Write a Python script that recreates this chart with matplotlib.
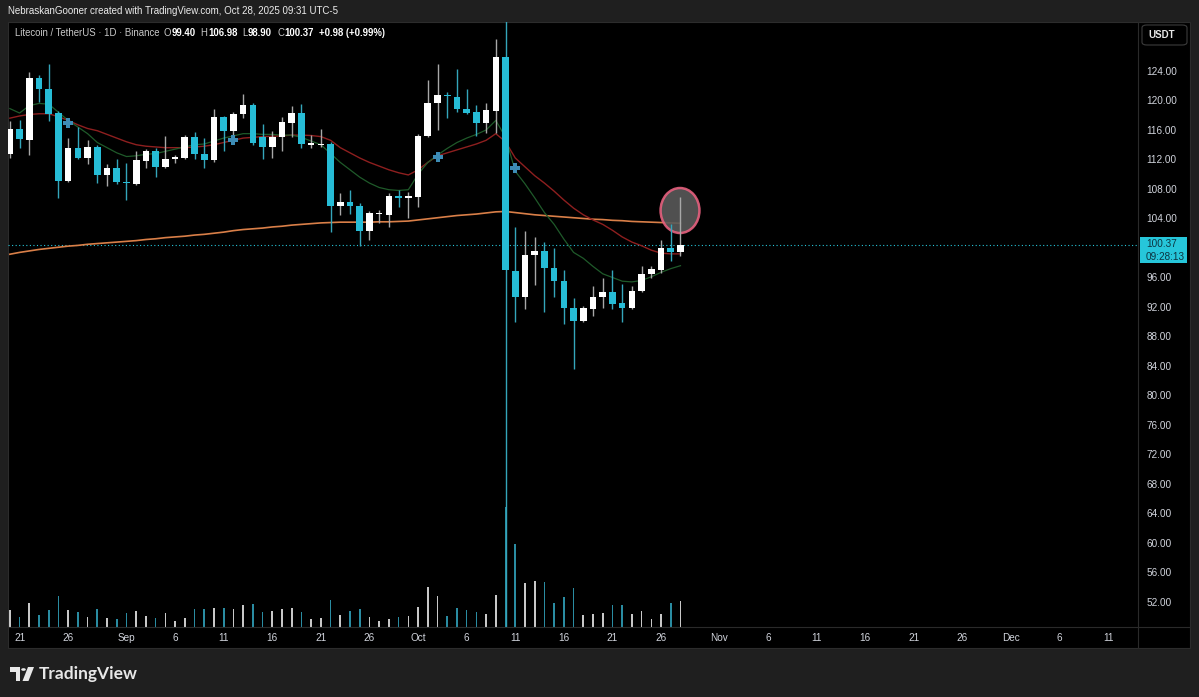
import numpy as np
import pandas as pd
import matplotlib.pyplot as plt
from matplotlib.patches import Rectangle, Ellipse, FancyBboxPatch, Polygon, Circle

W, H = 1199, 697

# LTC/USDT daily, Aug 20 - Oct 28 2025
dates = pd.date_range('2025-08-20', '2025-10-28', freq='D')
opens = [112.7, 116.1, 114.7, 123.0, 121.5, 118.3, 109.1, 113.5, 112.2, 113.7,
         109.9, 110.9, 109.0, 108.7, 111.8, 113.1, 111.0, 112.1, 112.2, 115.0,
         112.8, 111.9, 117.7, 115.9, 118.1, 119.4, 115.1, 113.7, 115.1, 117.0,
         118.3, 114.0, 113.9, 114.1, 105.7, 106.2, 105.7, 102.3, 104.6, 104.5,
         107.0, 106.8, 106.9, 115.2, 119.6, 120.8, 120.5, 118.9, 118.4, 116.9,
         118.6, 125.9, 96.9, 93.3, 99.0, 99.6, 97.3, 95.5, 91.8, 90.1,
         91.7, 93.3, 94.0, 92.5, 91.9, 94.2, 96.5, 97.0, 100.0, 99.40]
highs = [117.2, 117.4, 123.8, 123.5, 124.9, 118.6, 114.9, 116.4, 114.7, 113.9,
         111.4, 112.0, 111.5, 113.1, 113.4, 113.5, 115.2, 112.6, 115.3, 115.7,
         114.9, 118.8, 117.9, 118.5, 120.9, 119.6, 116.8, 115.9, 117.8, 119.3,
         119.5, 115.3, 116.2, 114.4, 107.4, 107.9, 106.1, 105.0, 105.2, 107.4,
         107.8, 107.6, 115.5, 122.8, 125.0, 121.1, 124.2, 121.5, 119.4, 119.7,
         128.3, 131.5, 102.9, 102.3, 101.5, 100.8, 100.0, 97.0, 93.2, 92.1,
         94.8, 95.9, 97.0, 95.1, 94.8, 97.6, 97.6, 101.1, 103.3, 106.98]
lows = [112.2, 113.6, 112.6, 119.8, 117.2, 106.8, 108.9, 112.0, 111.4, 108.8,
        108.4, 108.7, 106.5, 108.5, 110.9, 109.6, 110.8, 111.5, 112.0, 112.0,
        110.9, 111.6, 113.2, 114.6, 117.6, 114.0, 112.0, 112.2, 113.2, 115.1,
        113.5, 113.5, 113.7, 102.2, 104.5, 104.6, 100.3, 101.1, 103.4, 102.9,
        105.5, 104.0, 105.6, 115.0, 116.0, 117.6, 118.5, 118.2, 115.2, 115.6,
        115.6, 45.0, 90.0, 91.7, 95.0, 91.3, 93.4, 89.7, 83.6, 90.0,
        90.8, 91.8, 91.7, 90.0, 91.7, 94.0, 95.9, 96.6, 98.3, 98.90]
closes = [116.1, 114.8, 123.0, 121.5, 118.2, 109.1, 113.5, 112.2, 113.7, 109.9,
          110.9, 108.9, 108.8, 111.9, 113.1, 111.0, 112.1, 112.3, 115.0, 112.7,
          111.9, 117.7, 115.9, 118.2, 119.4, 114.2, 113.7, 115.1, 117.1, 118.3,
          114.1, 114.2, 114.1, 105.7, 106.2, 105.7, 102.3, 104.7, 104.8, 107.0,
          106.8, 107.0, 115.2, 119.7, 120.7, 120.6, 118.8, 118.3, 116.9, 118.7,
          125.9, 97.0, 93.3, 99.1, 99.6, 97.3, 95.5, 91.8, 90.1, 91.8,
          93.4, 94.0, 92.4, 91.9, 94.2, 96.5, 97.1, 100.0, 99.4, 100.37]
volumes = [510, 300, 720, 360, 510, 930, 510, 450, 300, 540,
           270, 240, 420, 480, 330, 270, 420, 180, 270, 540,
           540, 570, 570, 540, 660, 690, 450, 480, 540, 570,
           450, 240, 270, 810, 360, 480, 540, 300, 180, 240,
           300, 330, 600, 1200, 930, 330, 570, 510, 450, 390,
           960, 3600, 2490, 1320, 1380, 1350, 720, 900, 1170, 360,
           390, 420, 660, 660, 390, 480, 240, 390, 720, 780]

# moving averages
ma_fast = [118.9, 118.3, 119.3, 119.6, 119.5, 118.4, 117.3, 116.4, 115.5, 114.3,
           113.6, 112.9, 112.4, 112.5, 112.7, 112.8, 113.1, 113.4, 113.7, 114.0,
           114.1, 114.5, 114.9, 115.2, 115.5, 115.5, 115.4, 115.4, 115.3, 115.3,
           115.0, 114.5, 114.0, 112.8, 111.6, 110.6, 109.6, 108.8, 108.2, 107.9,
           107.8, 107.9, 110.0, 111.6, 112.6, 113.5, 114.3, 114.9, 115.4, 116.0,
           117.3, 115.0, 110.4, 108.7, 106.8, 104.8, 103.2, 101.2, 99.4, 98.6,
           97.5, 96.5, 96.0, 95.5, 95.4, 95.6, 96.1, 96.7, 97.2, 97.6]
ma_mid = [117.6, 117.9, 118.1, 118.2, 118.2, 117.8, 117.3, 116.7, 116.2, 115.9,
          115.4, 114.9, 114.4, 114.0, 113.8, 113.7, 113.6, 113.6, 113.6, 113.7,
          113.8, 114.0, 114.3, 114.6, 114.9, 115.0, 115.1, 115.15, 115.2, 115.3,
          115.3, 115.25, 115.1, 114.6, 113.6, 112.9, 112.2, 111.6, 111.1, 110.6,
          110.2, 109.9, 110.6, 111.6, 112.5, 112.9, 113.3, 113.7, 114.1, 114.6,
          115.5, 114.4, 112.2, 111.0, 109.8, 108.8, 107.7, 106.5, 105.4, 104.5,
          103.8, 103.2, 102.4, 101.5, 100.8, 100.3, 99.7, 99.3, 99.2, 99.2]
ma_slow = [99.15, 99.4, 99.6, 99.8, 99.95, 100.1, 100.25, 100.35, 100.5, 100.6,
           100.7, 100.8, 100.9, 101.0, 101.15, 101.25, 101.4, 101.5, 101.6, 101.75,
           101.85, 102.0, 102.15, 102.35, 102.5, 102.6, 102.7, 102.85, 102.95, 103.1,
           103.2, 103.3, 103.4, 103.45, 103.5, 103.5, 103.5, 103.5, 103.55, 103.55,
           103.6, 103.65, 103.8, 103.95, 104.1, 104.25, 104.4, 104.5, 104.6, 104.75,
           104.9, 104.95, 104.8, 104.65, 104.5, 104.4, 104.3, 104.2, 104.1, 104.0,
           103.9, 103.85, 103.75, 103.7, 103.6, 103.55, 103.5, 103.45, 103.4, 103.35]

cross_dates = ['2025-08-26', '2025-09-12', '2025-10-03', '2025-10-11']
cross_prices = [117.0, 114.6, 112.4, 110.8]

tick_dates = ['2025-08-21', '2025-08-26', '2025-09-01', '2025-09-06', '2025-09-11',
              '2025-09-16', '2025-09-21', '2025-09-26', '2025-10-01', '2025-10-06',
              '2025-10-11', '2025-10-16', '2025-10-21', '2025-10-26', '2025-11-01',
              '2025-11-06', '2025-11-11', '2025-11-16', '2025-11-21', '2025-11-26',
              '2025-12-01', '2025-12-06', '2025-12-11']
tick_labels = ['21', '26', 'Sep', '6', '11', '16', '21', '26', 'Oct', '6', '11', '16',
               '21', '26', 'Nov', '6', '11', '16', '21', '26', 'Dec', '6', '11']
price_ticks = [124, 120, 116, 112, 108, 104, 96, 92, 88, 84, 80, 76, 72, 68, 64, 60, 56, 52]
last_price = 100.37

UP = '#ffffff'
DOWN = '#26bcd6'
FONT = 'Liberation Sans'

t0 = dates[0]
xs = np.array([(d - t0).days for d in dates])
opens, highs, lows, closes = map(np.array, (opens, highs, lows, closes))
up = closes >= opens


def fx(px):
    return px / W


def fy(py):
    return 1 - py / H


fig = plt.figure(figsize=(W / 100, H / 100), dpi=100)
fig.patch.set_facecolor('#1f1f1f')

# black chart panel
fig.add_artist(Rectangle((fx(8), fy(648)), (1190 - 8) / W, (648 - 22) / H,
                         transform=fig.transFigure, facecolor='#000000',
                         edgecolor='#2c2c2c', lw=0.8, zorder=0))

rect = [fx(8), fy(627), (1138 - 8) / W, (627 - 22) / H]
xlim = (-0.19, 116.07)

# volume pane (overlay, bottom)
axv = fig.add_axes(rect)
axv.set_facecolor('none')
vcol = ['#c8c8c8' if u else '#2a8ca2' for u in up]
axv.bar(xs, volumes, width=0.17, color=vcol, linewidth=0)
axv.set_xlim(*xlim)
axv.set_ylim(0, 605 * 30)
axv.axis('off')

ax = fig.add_axes(rect)
ax.set_facecolor('none')
ax.set_xlim(*xlim)
ax.set_ylim(48.61, 130.64)
for s in ax.spines.values():
    s.set_visible(False)

ax.plot(xs, ma_slow, color='#d97f48', lw=1.2, zorder=2)
ax.plot(xs, ma_mid, color='#8e1f1f', lw=1.0, zorder=2)
ax.plot(xs, ma_fast, color='#1f5a2a', lw=0.9, zorder=2)

ax.axhline(last_price, color='#26c6da', lw=0.8, ls=(0, (1, 2.2)), zorder=1)

ax.add_patch(Ellipse((xs[-1] - 0.05, 105.08), 4.0, 6.1, facecolor='#5a5a5a',
                     alpha=0.9, edgecolor='#e6607e', lw=1.8, zorder=3))

wick_col = ['#a8a8a8' if u else '#34a6bb' for u in up]
ax.vlines(xs, lows, highs, colors=wick_col, lw=1.0, zorder=4)
body_lo = np.minimum(opens, closes)
body_h = np.maximum(np.abs(closes - opens), 0.18)
ax.bar(xs, body_h, bottom=body_lo, width=0.68,
       color=[UP if u else DOWN for u in up], linewidth=0, zorder=5)

cx = [(pd.Timestamp(d) - t0).days for d in cross_dates]
ax.plot(cx, cross_prices, 'P', color='#3d8cb5', ms=7, mew=0, zorder=6)

tx = [(pd.Timestamp(d) - t0).days for d in tick_dates]
ax.set_xticks(tx)
ax.set_xticklabels(tick_labels, fontfamily=FONT, fontsize=7.2, color='#d1d4dc')
ax.yaxis.tick_right()
ax.set_yticks(price_ticks)
ax.set_yticklabels([f'{p:.2f}' for p in price_ticks], fontfamily=FONT,
                   fontsize=7.2, color='#d1d4dc')
ax.tick_params(axis='x', length=0, pad=4)
ax.tick_params(axis='y', length=0, pad=6)

# pane separators
fig.add_artist(plt.Line2D([fx(8), fx(1190)], [fy(627), fy(627)],
                          color='#2a2a2a', lw=0.8))
fig.add_artist(plt.Line2D([fx(1138), fx(1138)], [fy(22), fy(648)],
                          color='#2a2a2a', lw=0.8))

# last price tag
fig.add_artist(Rectangle((fx(1140), fy(263)), 47 / W, 26 / H, transform=fig.transFigure,
                         facecolor='#26c6da', edgecolor='none'))
fig.text(fx(1146), fy(244), f'{last_price:.2f}', fontfamily=FONT, fontsize=7.2,
         color='#0c3440', va='center')
fig.text(fx(1146), fy(257), '09:28:13', fontfamily=FONT, fontsize=7.2,
         color='#0c3440', va='center')

# currency button
fig.add_artist(FancyBboxPatch((fx(1142), fy(45)), 45 / W, 20 / H,
                              boxstyle='round,pad=0,rounding_size=0.004',
                              transform=fig.transFigure, facecolor='#000000',
                              edgecolor='#3c3c3c', lw=0.8))
fig.text(fx(1148), fy(35.5), 'USDT', fontfamily=FONT, fontsize=7, color='#e8e8e8',
         va='center', fontweight='bold')

# header and legend
fig.text(fx(8), fy(11), 'NebraskanGooner created with TradingView.com, Oct 28, 2025 09:31 UTC-5',
         fontfamily=FONT, fontsize=7, color='#ececec', va='center')
legend = [('Litecoin / TetherUS · 1D · Binance', '#c9c9c9', 'normal', 4),
          ('O', '#c9c9c9', 'normal', 0.5), ('99.40', '#ffffff', 'bold', 5),
          ('H', '#c9c9c9', 'normal', 0.5), ('106.98', '#ffffff', 'bold', 5),
          ('L', '#c9c9c9', 'normal', 0.5), ('98.90', '#ffffff', 'bold', 5),
          ('C', '#c9c9c9', 'normal', 0.5), ('100.37', '#ffffff', 'bold', 5),
          ('+0.98 (+0.99%)', '#ffffff', 'bold', 0)]
renderer = fig.canvas.get_renderer()
lx = 15
for s, c, w, gap in legend:
    t = fig.text(fx(lx), fy(33), s, fontfamily=FONT, fontsize=6.9, color=c,
                 fontweight=w, va='center')
    lx += t.get_window_extent(renderer).width + gap

# TradingView logo
logo = '#e8e8e8'
fig.add_artist(Polygon([(fx(10), fy(667)), (fx(20), fy(667)), (fx(20), fy(681)),
                        (fx(15.5), fy(681)), (fx(15.5), fy(671.5)), (fx(10), fy(671.5))],
                       closed=True, transform=fig.transFigure, facecolor=logo, edgecolor='none'))
fig.add_artist(Circle((fx(23.5), fy(669.5)), 2.3 / W, transform=fig.transFigure,
                      facecolor=logo, edgecolor='none'))
fig.add_artist(Polygon([(fx(28), fy(667)), (fx(34), fy(667)), (fx(28.5), fy(681)),
                        (fx(22.5), fy(681))], closed=True, transform=fig.transFigure,
                       facecolor=logo, edgecolor='none'))
fig.text(fx(39), fy(674), 'TradingView', fontfamily='Lato', fontsize=12.5,
         fontweight='bold', color=logo, va='center')

fig.savefig('out.png', dpi=100, facecolor=fig.get_facecolor())
